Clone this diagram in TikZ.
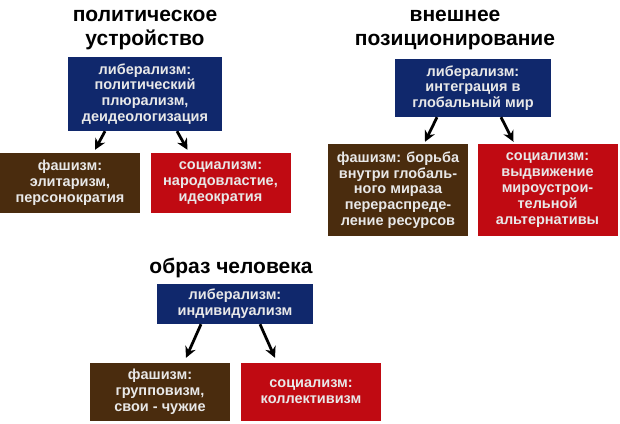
\documentclass[tikz,border=0pt]{standalone}
\usepackage{fontspec}
\setmainfont{Liberation Sans}
\usetikzlibrary{arrows.meta, positioning}
\definecolor{libblue}{HTML}{10286C}
\definecolor{fasbrown}{HTML}{4A2C0E}
\definecolor{socred}{HTML}{C00A12}
\definecolor{boxtext}{HTML}{E8E8E8}

\begin{document}
\begin{tikzpicture}[x=1pt,y=-1pt,
	box/.style={rectangle,inner sep=0pt,align=center,text=boxtext,
		font=\fontsize{14.5}{15.8}\selectfont\bfseries},
	libbox/.style={box,fill=libblue},
	fasbox/.style={box,fill=fasbrown,minimum width=140pt},
	socbox/.style={box,fill=socred,minimum width=140pt},
	title/.style={align=center,font=\fontsize{21}{24}\selectfont\bfseries},
	arr/.style={-{Stealth[length=11pt,width=11pt]},line width=2.8pt}
]
	\useasboundingbox (0,0) rectangle (620,423);

	% political system
	\node[title] at (145,30) (t1) {политическое\\устройство};
	\node[libbox,minimum width=154pt,minimum height=74pt] at (145,94) (lib1)
		{либерализм:\\политический\\плюрализм,\\деидеологизация};
	\node[fasbox,minimum height=60pt] at (70,183) (fas1)
		{фашизм:\\элитаризм,\\персонократия};
	\node[socbox,minimum height=60pt] at (220.5,183) (soc1)
		{социализм:\\народовластие,\\идеократия};
	\draw[arr] ([xshift=-40pt]lib1.south) -- ([xshift=25pt,yshift=3pt]fas1.north);
	\draw[arr] ([xshift=32pt]lib1.south) -- ([xshift=-33pt,yshift=3pt]soc1.north);

	% external positioning
	\node[title] at (455,30) (t2) {внешнее\\позиционирование};
	\node[libbox,minimum width=156pt,minimum height=58pt] at (473,88) (lib2)
		{либерализм:\\интеграция в\\глобальный мир};
	\node[fasbox,minimum height=92pt] at (398,190) (fas2)
		{фашизм: борьба\\внутри глобаль-\\ного мираза\\перераспреде-\\ление ресурсов};
	\node[socbox,minimum height=92pt] at (547.5,190) (soc2)
		{социализм:\\выдвижение\\мироустрои-\\тельной\\альтернативы};
	\draw[arr] ([xshift=-36pt]lib2.south) -- ([xshift=27pt,yshift=2pt]fas2.north);
	\draw[arr] ([xshift=28pt]lib2.south) -- ([xshift=-34pt,yshift=2pt]soc2.north);

	% image of man
	\node[title] at (231,268) (t3) {образ человека};
	\node[libbox,minimum width=156pt,minimum height=40pt] at (235,304) (lib3)
		{либерализм:\\индивидуализм};
	\node[fasbox,minimum height=58pt] at (160,392) (fas3)
		{фашизм:\\групповизм,\\свои - чужие};
	\node[socbox,minimum height=58pt] at (311,392) (soc3)
		{социализм:\\коллективизм};
	\draw[arr] ([xshift=-34pt]lib3.south) -- ([xshift=26pt,yshift=5pt]fas3.north);
	\draw[arr] ([xshift=25pt]lib3.south) -- ([xshift=-36pt,yshift=5pt]soc3.north);
\end{tikzpicture}
\end{document}
